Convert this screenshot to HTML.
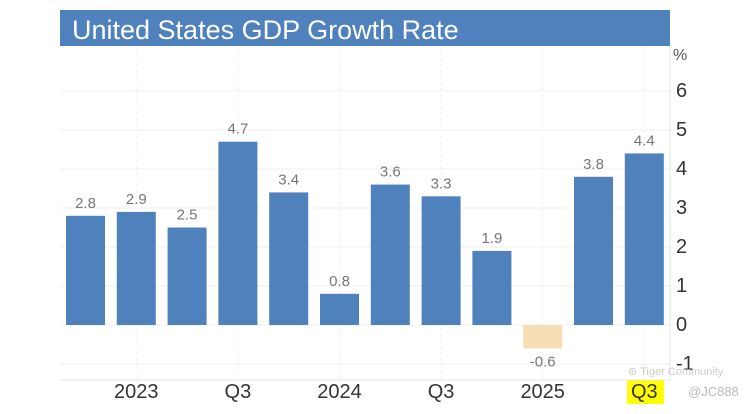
<!DOCTYPE html>
<html><head><meta charset="utf-8"><style>
body{margin:0;background:#fff;width:748px;height:409px;overflow:hidden;font-family:"Liberation Sans",Arial,sans-serif}
</style></head><body>
<svg width="748" height="409" xmlns="http://www.w3.org/2000/svg">
<rect x="60" y="10" width="610" height="36" fill="#4f81bd"/>
<text x="72" y="39" font-size="27" fill="#fff">United States GDP Growth Rate</text>
<rect x="627" y="380" width="37" height="24" fill="#ffff00"/>
<g id="grid"></g><g id="bars"></g><g id="labels"></g><g id="axis"></g>
<line x1="670" y1="46" x2="670" y2="380" stroke="#e4e4e4"/>
<line x1="60" y1="380" x2="670" y2="380" stroke="#e4e4e4"/>
<text x="673" y="60" font-size="16" fill="#555">%</text>
<text x="628" y="375" font-size="11" fill="#ccc">⊛ Tiger Community</text>
<text x="688" y="396" font-size="13" fill="#bbb">@JC888</text>
<script>
const categories=["Q1 2023","Q2 2023","Q3 2023","Q4 2023","Q1 2024","Q2 2024","Q3 2024","Q4 2024","Q1 2025","Q2 2025","Q3 2025","Q4 2025"];
const values=[2.8,2.9,2.5,4.7,3.4,0.8,3.6,3.3,1.9,-0.6,3.8,4.4];
const yTicks=[-1,0,1,2,3,4,5,6];
const xLabels=["","2023","","Q3","","2024","","Q3","","2025","","Q3"];
const NS="http://www.w3.org/2000/svg";
const y=v=>325-v*39;
const x0=66,step=50.8,bw=39;
const xc=i=>x0+i*step+bw/2;
function mk(t,a,p){const e=document.createElementNS(NS,t);for(const k in a)e.setAttribute(k,a[k]);document.getElementById(p).appendChild(e);return e;}
yTicks.forEach(t=>{
 const g=mk('line',{x1:60,x2:670,y1:y(t),y2:y(t),stroke:'#efefef'},'grid');
 
 
 const l=mk('text',{x:676,y:y(t)+6,'font-size':20,fill:'#333'},'axis');
 l.textContent=t;
 
 
});
values.forEach((v,i)=>{
 const top=Math.min(y(v),y(0)),h=Math.abs(y(v)-y(0));
 const b=mk('rect',{x:xc(i)-bw/2,y:top,width:bw,height:h,fill:v<0?'#f5deb3':'#4f81bd'},'bars');
 
 
 const t=mk('text',{x:xc(i),y:v<0?y(v)+18:y(v)-8,'font-size':15,fill:'#777','text-anchor':'middle'},'labels');
 t.textContent=v;
 
 
 if(xLabels[i]){
  const g=mk('line',{x1:xc(i),x2:xc(i),y1:46,y2:380,stroke:'#f0f0f0','stroke-dasharray':'3,3'},'grid');
  
  
  const l=mk('text',{x:xc(i),y:398,'font-size':20,fill:'#333','text-anchor':'middle'},'axis');
  l.textContent=xLabels[i];
  
  
 }
});
</script>
</svg>
</body></html>
